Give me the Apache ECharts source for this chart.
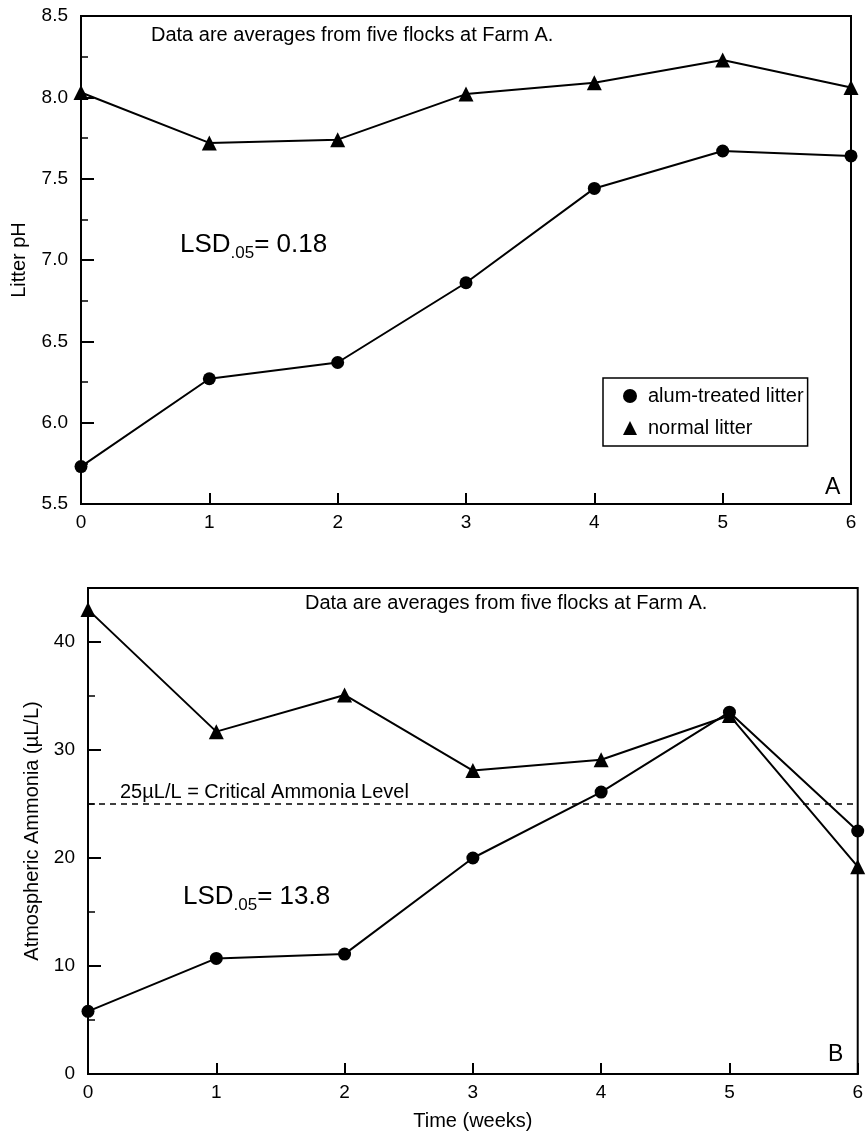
<!DOCTYPE html>
<html>
<head>
<meta charset="utf-8">
<script src="https://cdn.jsdelivr.net/npm/echarts@6/dist/echarts.min.js"></script>
<style>
html,body{margin:0;padding:0;background:#fff;}
#chart{width:866px;height:1132px;}
</style>
</head>
<body>
<div id="chart"></div>
<script>
// ---- data ----
var weeks = [0, 1, 2, 3, 4, 5, 6];
var seriesNames = ['alum-treated litter', 'normal litter'];
var phAlum = [5.73, 6.27, 6.37, 6.86, 7.44, 7.67, 7.64];
var phNormal = [8.03, 7.72, 7.74, 8.02, 8.09, 8.23, 8.06];
var nh3Alum = [5.8, 10.7, 11.1, 20.0, 26.1, 33.5, 22.5];
var nh3Normal = [43.0, 31.7, 35.1, 28.1, 29.1, 33.2, 19.2];
var criticalLevel = 25;
var phTicks = [5.5, 6.0, 6.5, 7.0, 7.5, 8.0, 8.5];
var nh3Ticks = [0, 10, 20, 30, 40];
var noteText = 'Data are averages from five flocks at Farm A.';
var criticalText = '25\u00b5L/L = Critical Ammonia Level';
var lsdA = '0.18';
var lsdB = '13.8';

function pairs(xs, ys) { return xs.map(function (x, i) { return [x, ys[i]]; }); }

var FONT = '"Liberation Sans", Arial, Helvetica, sans-serif';
var black = '#000';

function xAxisCfg(gridIndex, name) {
  return {
    type: 'value', gridIndex: gridIndex, min: 0, max: 6, interval: 1,
    name: name || '', nameLocation: 'middle', nameGap: 37,
    nameTextStyle: { fontFamily: FONT, fontSize: 20, color: black },
    axisLine: { show: true, onZero: false, lineStyle: { color: black, width: 2 } },
    axisTick: { show: true, inside: true, length: 11, lineStyle: { color: black, width: 2 } },
    axisLabel: { fontFamily: FONT, fontSize: 19, color: black, margin: 9 },
    splitLine: { show: false }
  };
}

function yAxisCfg(gridIndex, ticks, name, nameGap, fmt) {
  var step = ticks[1] - ticks[0];
  return {
    type: 'value', gridIndex: gridIndex, min: ticks[0], interval: step,
    max: gridIndex === 0 ? ticks[ticks.length - 1] : 45,
    name: name, nameLocation: 'middle', nameGap: nameGap,
    nameTextStyle: { fontFamily: FONT, fontSize: 20, color: black },
    axisLine: { show: true, onZero: false, lineStyle: { color: black, width: 2 } },
    axisTick: { show: true, inside: true, length: 13, lineStyle: { color: black, width: 2 } },
    minorTick: { show: true, splitNumber: 2, length: 7, lineStyle: { color: black, width: 1.5 } },
    axisLabel: { fontFamily: FONT, fontSize: 19, color: black, margin: 13, showMaxLabel: gridIndex === 0, formatter: fmt },
    splitLine: { show: false }, minorSplitLine: { show: false }
  };
}

function lineSeries(name, gi, data, symbol, size, extra) {
  var s = {
    type: 'line', name: name, xAxisIndex: gi, yAxisIndex: gi,
    data: data, symbol: symbol, symbolSize: size, showSymbol: true,
    lineStyle: { color: black, width: 2 },
    itemStyle: { color: black },
    emphasis: { disabled: true }, animation: false, z: 3
  };
  if (extra) { for (var k in extra) s[k] = extra[k]; }
  return s;
}

// measure text widths for the LSD annotation (main text + subscript)
var measureCtx = document.createElement('canvas').getContext('2d');
function textW(txt, size) { measureCtx.font = size + 'px ' + FONT; return measureCtx.measureText(txt).width; }

function lsdElems(val, x, baseY) {
  var big = 26, small = 17;
  var w1 = textW('LSD', big), w2 = textW('.05', small);
  var mk = function (t, size, dx, dy) {
    return { type: 'text', x: x + dx, y: baseY + dy,
      style: { text: t, font: size + 'px ' + FONT, fill: black, verticalAlign: 'bottom', align: 'left' } };
  };
  return [
    mk('LSD', big, 0, 0),
    mk('.05', small, w1, 4),
    mk('= ' + val, big, w1 + w2, 0)
  ];
}

var chart = echarts.init(document.getElementById('chart'), null, { renderer: 'canvas' });
chart.setOption({
  backgroundColor: '#fff',
  animation: false,
  grid: [
    { left: 81, top: 16, width: 770, height: 488, show: true, borderColor: black, borderWidth: 2, backgroundColor: 'transparent' },
    { left: 88, top: 588, width: 775, height: 490, show: true, borderColor: black, borderWidth: 2, backgroundColor: 'transparent' }
  ],
  xAxis: [xAxisCfg(0), xAxisCfg(1, 'Time (weeks)')],
  yAxis: [
    yAxisCfg(0, phTicks, 'Litter pH', 52, function (v) { return v.toFixed(1); }),
    yAxisCfg(1, nh3Ticks, 'Atmospheric Ammonia (\u00b5L/L)', 46, function (v) { return String(v); })
  ],
  legend: {
    data: [
      { name: seriesNames[0], icon: 'circle' },
      { name: seriesNames[1], icon: 'triangle' }
    ],
    orient: 'vertical', left: 603, top: 378,
    itemWidth: 14, itemHeight: 14, itemGap: 12,
    padding: [8, 4, 8, 20],
    borderColor: black, borderWidth: 1.5, backgroundColor: '#fff',
    textStyle: { fontFamily: FONT, fontSize: 20, color: black, padding: [0, 0, 0, 6] },
    selectedMode: false
  },
  series: [
    lineSeries(seriesNames[0], 0, pairs(weeks, phAlum), 'circle', 13),
    lineSeries(seriesNames[1], 0, pairs(weeks, phNormal), 'triangle', 15),
    lineSeries(seriesNames[0], 1, pairs(weeks, nh3Alum), 'circle', 13, {
      markLine: {
        silent: true, symbol: 'none', animation: false,
        lineStyle: { color: black, type: [6, 5], width: 1.5 },
        label: { show: false },
        data: [{ yAxis: criticalLevel }]
      }
    }),
    lineSeries(seriesNames[1], 1, pairs(weeks, nh3Normal), 'triangle', 15)
  ],
  graphic: [
    { type: 'text', left: 151, top: 25, style: { text: noteText, font: '20px ' + FONT, fill: black } },
    { type: 'text', left: 305, top: 593, style: { text: noteText, font: '20px ' + FONT, fill: black } },
    { type: 'text', left: 120, top: 782, style: { text: criticalText, font: '20px ' + FONT, fill: black } },
    { type: 'text', left: 825, top: 476, style: { text: 'A', font: '23px ' + FONT, fill: black } },
    { type: 'text', left: 828, top: 1043, style: { text: 'B', font: '23px ' + FONT, fill: black } }
  ].concat(lsdElems(lsdA, 180, 258)).concat(lsdElems(lsdB, 183, 910))
});
</script>
</body>
</html>
